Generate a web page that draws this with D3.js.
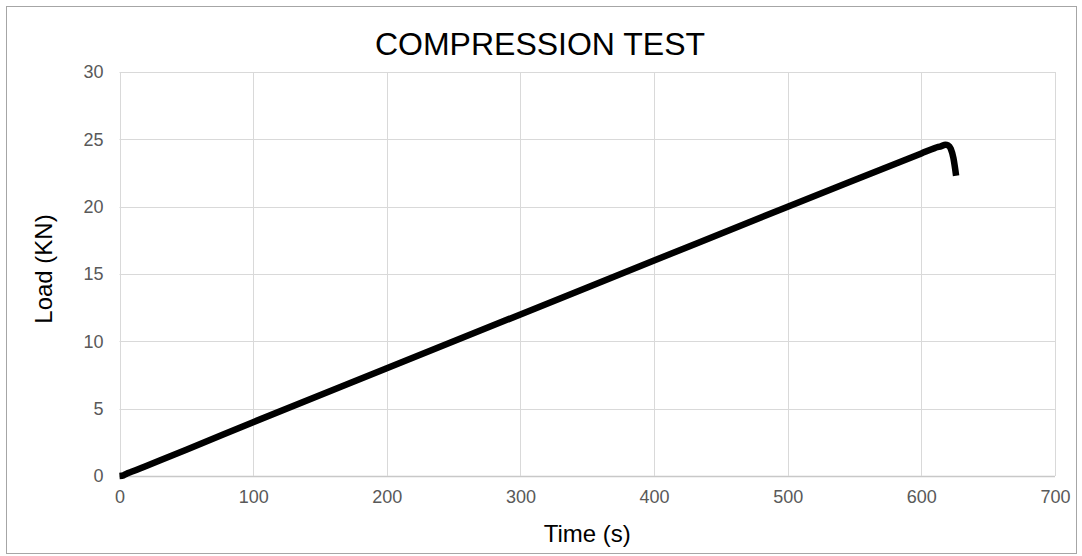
<!DOCTYPE html>
<html>
<head>
<meta charset="utf-8">
<script src="https://cdn.jsdelivr.net/npm/d3@7"></script>
<style>
  body { margin: 0; background: #fff; }
  svg { font-family: "Liberation Sans", Arial, sans-serif; }
</style>
</head>
<body>
<div id="svg-container"></div>
<script>
// data
const timeValues = [0, 3, 6, 10, 20, 50, 100, 200, 300, 400, 500, 600, 610, 615, 618, 620, 622, 624, 625, 626];
const loadValues = [0, 0.05, 0.2, 0.35, 0.75, 1.95, 4.0, 8.0, 12.0, 16.0, 20.0, 23.95, 24.35, 24.5, 24.6, 24.55, 24.3, 23.6, 23.0, 22.3];
const xTicks = [0, 100, 200, 300, 400, 500, 600, 700];
const yTicks = [0, 5, 10, 15, 20, 25, 30];

const data = timeValues.map((t, i) => ({ t: t, load: loadValues[i] }));

const width = 1082;
const height = 556;
const margin = { top: 72, right: 27, bottom: 80, left: 119.5 };

const svg = d3.select("#svg-container").append("svg")
  .attr("width", width)
  .attr("height", height);

// outer border
svg.append("rect")
  .attr("x", 6.5).attr("y", 6.5)
  .attr("width", 1070).attr("height", 547)
  .attr("fill", "#fff")
  .attr("stroke", "#a6a6a6")
  .attr("stroke-width", 1);

const xScale = d3.scaleLinear().domain([0, 700]).range([margin.left, width - margin.right]);
const yScale = d3.scaleLinear().domain([0, 30]).range([height - margin.bottom, margin.top]);

// gridlines
svg.append("g")
  .selectAll("line")
  .data(yTicks)
  .enter()
  .append("line")
  .attr("x1", xScale(0)).attr("x2", xScale(700))
  .attr("y1", (d) => Math.round(yScale(d)) + 0.5)
  .attr("y2", (d) => Math.round(yScale(d)) + 0.5)
  .attr("stroke", (d) => (d === 0 ? "#c8c8c8" : "#d9d9d9"))
  .attr("stroke-width", (d) => (d === 0 ? 1.5 : 1));

svg.append("g")
  .selectAll("line")
  .data(xTicks)
  .enter()
  .append("line")
  .attr("y1", yScale(0)).attr("y2", yScale(30))
  .attr("x1", (d) => Math.round(xScale(d)) + 0.5)
  .attr("x2", (d) => Math.round(xScale(d)) + 0.5)
  .attr("stroke", "#d9d9d9")
  .attr("stroke-width", 1);

// axes
const xAxis = d3.axisBottom(xScale).tickValues(xTicks).tickSize(0).tickPadding(14);
const yAxis = d3.axisLeft(yScale).tickValues(yTicks).tickSize(0).tickPadding(16);

svg.append("g")
  .attr("class", "x-axis")
  .attr("transform", `translate(0,${height - margin.bottom})`)
  .call(xAxis)
  .call((g) => g.select(".domain").remove());

svg.append("g")
  .attr("class", "y-axis")
  .attr("transform", `translate(${margin.left},0)`)
  .call(yAxis)
  .call((g) => g.select(".domain").remove());

svg.selectAll(".x-axis text, .y-axis text")
  .attr("fill", "#595959")
  .style("font-size", "18px");

// line
const line = d3.line()
  .x((d) => xScale(d.t))
  .y((d) => yScale(d.load))
  .curve(d3.curveMonotoneX);

svg.append("path")
  .datum(data)
  .attr("d", line)
  .attr("fill", "none")
  .attr("stroke", "#000")
  .attr("stroke-width", 6.5)
  .attr("stroke-linejoin", "round");

// title & units
svg.append("text")
  .attr("x", 540).attr("y", 55)
  .attr("text-anchor", "middle")
  .attr("fill", "#000")
  .style("font-size", "32px")
  .text("COMPRESSION TEST");

svg.append("text")
  .attr("x", (xScale(0) + xScale(700)) / 2)
  .attr("y", 542)
  .attr("text-anchor", "middle")
  .attr("fill", "#000")
  .style("font-size", "24px")
  .text("Time (s)");

svg.append("text")
  .attr("transform", `translate(52,${(yScale(0) + yScale(30)) / 2 - 5}) rotate(-90)`)
  .attr("text-anchor", "middle")
  .attr("fill", "#000")
  .style("font-size", "24px")
  .text("Load (KN)");
</script>
</body>
</html>
